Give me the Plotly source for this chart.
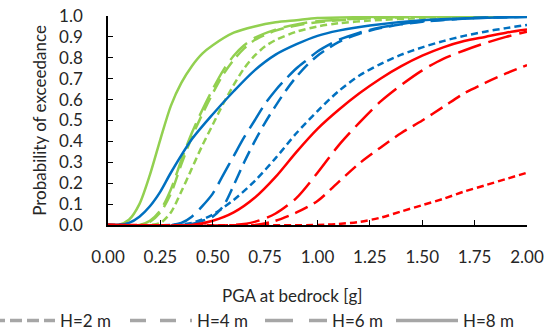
import plotly.graph_objects as go

# ---------------- data ----------------
# Green group
g8_x = [0, 0.05, 0.1, 0.15, 0.2, 0.25, 0.3, 0.35, 0.4, 0.45, 0.5, 0.6, 0.7, 0.8, 0.9, 1.0, 1.25, 1.5, 2.0]
g8_y = [0, 0.0, 0.025, 0.10, 0.24, 0.41, 0.57, 0.68, 0.76, 0.82, 0.86, 0.92, 0.95, 0.97, 0.98, 0.99, 0.995, 1.0, 1.0]
g6_x = [0, 0.15, 0.2, 0.25, 0.3, 0.35, 0.4, 0.45, 0.5, 0.55, 0.6, 0.65, 0.7, 0.8, 0.9, 1.0, 1.25, 1.5, 2.0]
g6_y = [0, 0.0, 0.02, 0.07, 0.17, 0.31, 0.44, 0.55, 0.65, 0.74, 0.81, 0.86, 0.895, 0.935, 0.96, 0.975, 0.99, 0.997, 1.0]
g4_x = [0, 0.15, 0.2, 0.25, 0.3, 0.35, 0.4, 0.45, 0.5, 0.55, 0.6, 0.65, 0.7, 0.8, 0.9, 1.0, 1.25, 1.5, 2.0]
g4_y = [0, 0.0, 0.015, 0.06, 0.15, 0.29, 0.42, 0.53, 0.63, 0.72, 0.79, 0.845, 0.885, 0.93, 0.955, 0.97, 0.99, 0.995, 1.0]
g2_x = [0, 0.2, 0.25, 0.3, 0.35, 0.4, 0.45, 0.5, 0.55, 0.6, 0.65, 0.7, 0.75, 0.8, 0.9, 1.0, 1.1, 1.25, 1.5, 1.75, 2.0]
g2_y = [0, 0.0, 0.01, 0.06, 0.16, 0.27, 0.38, 0.48, 0.58, 0.67, 0.75, 0.81, 0.855, 0.885, 0.925, 0.95, 0.965, 0.978, 0.99, 0.995, 1.0]

# Blue group
b8_x = [0, 0.05, 0.1, 0.15, 0.2, 0.25, 0.3, 0.4, 0.5, 0.6, 0.7, 0.8, 0.9, 1.0, 1.1, 1.25, 1.5, 1.75, 2.0]
b8_y = [0, 0.0, 0.01, 0.04, 0.09, 0.16, 0.25, 0.41, 0.53, 0.64, 0.74, 0.815, 0.865, 0.905, 0.93, 0.955, 0.98, 0.99, 0.995]
b6_x = [0, 0.3, 0.35, 0.4, 0.45, 0.5, 0.55, 0.6, 0.65, 0.7, 0.75, 0.8, 0.85, 0.9, 0.95, 1.0, 1.1, 1.2, 1.3, 1.4, 1.5, 1.75, 2.0]
b6_y = [0, 0.0, 0.01, 0.04, 0.09, 0.15, 0.24, 0.33, 0.42, 0.50, 0.58, 0.645, 0.70, 0.75, 0.79, 0.83, 0.885, 0.92, 0.945, 0.962, 0.975, 0.99, 0.997]
b4_x = [0, 0.35, 0.4, 0.45, 0.5, 0.55, 0.6, 0.65, 0.7, 0.75, 0.8, 0.85, 0.9, 0.95, 1.0, 1.1, 1.2, 1.3, 1.4, 1.5, 1.75, 2.0]
b4_y = [0, 0.0, 0.005, 0.02, 0.04, 0.09, 0.19, 0.30, 0.40, 0.49, 0.57, 0.645, 0.71, 0.765, 0.81, 0.875, 0.915, 0.942, 0.96, 0.973, 0.99, 0.996]
b2_x = [0, 0.3, 0.4, 0.5, 0.6, 0.7, 0.8, 0.9, 1.0, 1.1, 1.2, 1.3, 1.4, 1.5, 1.6, 1.7, 1.8, 1.9, 2.0]
b2_y = [0, 0.0, 0.01, 0.05, 0.12, 0.21, 0.32, 0.44, 0.545, 0.64, 0.715, 0.77, 0.815, 0.85, 0.88, 0.905, 0.925, 0.942, 0.957]

# Red group
r8_x = [0, 0.4, 0.5, 0.6, 0.7, 0.8, 0.9, 1.0, 1.1, 1.2, 1.3, 1.4, 1.5, 1.6, 1.7, 1.8, 1.9, 2.0]
r8_y = [0, 0.0, 0.02, 0.06, 0.13, 0.23, 0.35, 0.46, 0.55, 0.63, 0.70, 0.76, 0.81, 0.85, 0.88, 0.90, 0.92, 0.935]
r6_x = [0, 0.6, 0.7, 0.8, 0.9, 1.0, 1.1, 1.2, 1.3, 1.4, 1.5, 1.6, 1.7, 1.8, 1.9, 2.0]
r6_y = [0, 0.0, 0.015, 0.055, 0.13, 0.25, 0.38, 0.49, 0.59, 0.67, 0.74, 0.795, 0.835, 0.87, 0.90, 0.925]
r4_x = [0, 0.7, 0.8, 0.9, 1.0, 1.1, 1.2, 1.3, 1.4, 1.5, 1.6, 1.7, 1.8, 1.9, 2.0]
r4_y = [0, 0.0, 0.02, 0.06, 0.115, 0.205, 0.295, 0.37, 0.44, 0.50, 0.565, 0.63, 0.68, 0.725, 0.765]
r2_x = [0, 1.0, 1.1, 1.2, 1.3, 1.4, 1.5, 1.6, 1.7, 1.8, 1.9, 2.0]
r2_y = [0, 0.0, 0.005, 0.015, 0.035, 0.065, 0.095, 0.125, 0.16, 0.19, 0.22, 0.25]

legend_labels = ["H=2 m", "H=4 m", "H=6 m", "H=8 m"]
x_ticks = [0, 0.25, 0.5, 0.75, 1.0, 1.25, 1.5, 1.75, 2.0]
y_ticks = [0, 0.1, 0.2, 0.3, 0.4, 0.5, 0.6, 0.7, 0.8, 0.9, 1.0]

# ---------------- styles ----------------
GREEN = "#92D050"
BLUE = "#0070C0"
RED = "#FF0000"
GREY = "#A6A6A6"
DASH = {"H=2 m": "7px,4px", "H=4 m": "14px,7px", "H=6 m": "24px,8px", "H=8 m": "solid"}
LEG_DASH = {"H=2 m": "12px,5px", "H=4 m": "16px,14px", "H=6 m": "28px,16px", "H=8 m": "solid"}
FONT = "Lato, 'Open Sans', sans-serif"
TXT = "#262626"
FS = 17

L, R, T, B = 108, 31, 16, 105
W, H = 558, 330
PW = W - L - R
PH = H - T - B
ITEMW = 62
legend_text_px = [60, 197, 332, 463]   # left edge of each legend label (pixels)
legend_ids = ["legend", "legend2", "legend3", "legend4"]

groups = [
    (GREEN, [(g2_x, g2_y), (g4_x, g4_y), (g6_x, g6_y), (g8_x, g8_y)]),
    (BLUE, [(b2_x, b2_y), (b4_x, b4_y), (b6_x, b6_y), (b8_x, b8_y)]),
    (RED, [(r2_x, r2_y), (r4_x, r4_y), (r6_x, r6_y), (r8_x, r8_y)]),
]

fig = go.Figure()
for color, curves in groups:
    for lab, (xs, ys) in zip(legend_labels, curves):
        fig.add_trace(go.Scatter(
            x=xs, y=ys, mode="lines", showlegend=False,
            line=dict(color=color, width=2.5, dash=DASH[lab], shape="spline", smoothing=0.8),
            hoverinfo="skip",
        ))

legend_layout = {}
for lab, lid, tpx in zip(legend_labels, legend_ids, legend_text_px):
    fig.add_trace(go.Scatter(
        x=[None], y=[None], mode="lines", name=lab, legend=lid,
        line=dict(color=GREY, width=3.5, dash=LEG_DASH[lab]),
    ))
    legend_layout[lid] = dict(
        orientation="h", x=(tpx - (ITEMW + 10) - L) / PW, xanchor="left",
        y=-(321 - (T + PH)) / PH, yanchor="middle",
        itemwidth=ITEMW, font=dict(family=FONT, size=FS, color=TXT),
        bgcolor="rgba(0,0,0,0)",
    )

fig.update_layout(
    width=W, height=H,
    margin=dict(l=L, r=R, t=T, b=B, autoexpand=False),
    paper_bgcolor="white", plot_bgcolor="white",
    font=dict(family=FONT, size=FS, color=TXT),
    showlegend=True,
    annotations=[dict(
        text="PGA at bedrock [g]", xref="paper", yref="paper",
        x=(292 - L) / PW, y=0, yshift=-70, xanchor="center", yanchor="middle",
        showarrow=False, font=dict(family=FONT, size=FS, color=TXT),
    )],
    **legend_layout,
)

fig.update_xaxes(
    range=[0, 2], tickvals=x_ticks, tickformat=".2f",
    ticks="inside", ticklen=5, tickcolor="black", tickwidth=1,
    showline=True, linecolor="black", linewidth=1.5,
    showgrid=False, zeroline=False, ticklabelstandoff=16, automargin=False,
    tickfont=dict(family=FONT, size=FS, color=TXT),
)
fig.update_yaxes(
    range=[0, 1], tickvals=y_ticks, tickformat=".1f",
    ticks="inside", ticklen=5, tickcolor="black", tickwidth=1,
    showline=True, linecolor="black", linewidth=1.5,
    showgrid=False, zeroline=False, ticklabelstandoff=20, automargin=False,
    tickfont=dict(family=FONT, size=FS, color=TXT),
    title=dict(text="Probability of exceedance", standoff=8,
               font=dict(family=FONT, size=FS, color=TXT)),
)

fig.write_html("out.html", config={"displayModeBar": False},
               post_script="document.body.style.margin='0';")
